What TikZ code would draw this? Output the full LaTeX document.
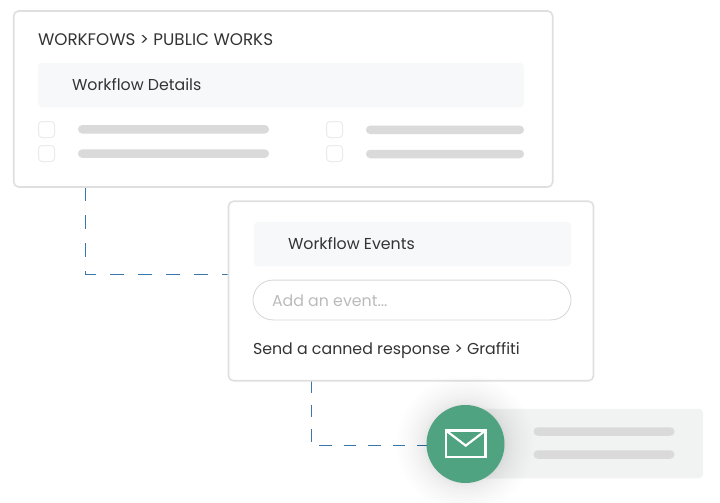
\documentclass[tikz,border=0pt]{standalone}
\usepackage{fontspec}
\setmainfont{Poppins}
\usetikzlibrary{backgrounds}
\definecolor{cardline}{HTML}{DFDFDF}
\definecolor{band}{HTML}{F7F8FA}
\definecolor{barc}{HTML}{DADADA}
\definecolor{ink}{HTML}{343434}
\definecolor{hint}{HTML}{BBBBBB}
\definecolor{link}{HTML}{3A78AB}
\definecolor{mail}{HTML}{4FA381}
\definecolor{panelc}{HTML}{F1F3F2}
\tikzset{
  box/.style={rectangle,inner sep=0pt,outer sep=0pt},
  card/.style={box,draw=cardline,line width=1.6pt,fill=white,rounded corners=5pt},
  bandbox/.style={box,fill=band,rounded corners=4pt},
  checkbox/.style={box,draw=black!8,line width=1pt,fill=white,rounded corners=3.5pt,minimum width=16pt,minimum height=16pt},
  barbox/.style={box,fill=barc,rounded corners=4.2pt,minimum height=8.5pt},
  label/.style={inner sep=0pt,outer sep=0pt,anchor=base west,text=ink,font=\fontsize{15.8}{18}\selectfont},
  linkline/.style={draw=link,line width=1pt,dash pattern=on 14pt off 14pt},
  linklineb/.style={draw=link,line width=1pt,dash pattern=on 12.5pt off 12pt,dash phase=0.5pt},
}
\begin{document}
\begin{tikzpicture}[x=1pt,y=-1pt]
\useasboundingbox (0,0) rectangle (720,503);
% first card
\node[card,minimum width=539pt,minimum height=176pt] (cardA) at (283.2,99) {};
\node[bandbox,minimum width=486pt,minimum height=44.5pt] (bandA) at (281,85.2) {};
\node[label,font=\fontsize{16.75}{18}\selectfont] (titleA) at (38,45.6) {WORKFOWS > PUBLIC WORKS};
\node[label] (textA) at (72,90) {Workflow Details};
\node[checkbox] (chkA) at (46.5,129.5) {};
\node[checkbox] (chkB) at (46.5,153.5) {};
\node[checkbox] (chkC) at (334.5,129.5) {};
\node[checkbox] (chkD) at (334.5,153.5) {};
\node[barbox,minimum width=191pt] (barA) at (173.5,129.3) {};
\node[barbox,minimum width=191pt] (barB) at (173.5,153.6) {};
\node[barbox,minimum width=158pt] (barC) at (445,129.8) {};
\node[barbox,minimum width=158pt] (barD) at (445,154) {};
% second card
\node[card,minimum width=365pt,minimum height=179.5pt] (cardB) at (411,291) {};
\node[bandbox,minimum width=317pt,minimum height=44.5pt] (bandB) at (412.5,244.2) {};
\node[label] (textB) at (288,249) {Workflow Events};
\node[box,draw=black!16,line width=.8pt,fill=white,rounded corners=19.9pt,minimum width=318pt,minimum height=39.8pt] (pill) at (412,300) {};
\node[label,text=hint] (hintT) at (272,306) {Add an event...};
\node[label] (textC) at (253,354) {Send a canned response > Graffiti};
% panel and mail circle
\node[box,fill=panelc,rounded corners=4pt,minimum width=233pt,minimum height=69.5pt] (panel) at (586.5,443.5) {};
\node[barbox,fill=barc,minimum width=141pt] (barE) at (604,431.5) {};
\node[barbox,fill=barc,minimum width=141pt] (barF) at (604,454.5) {};
\foreach \t in {1,...,28} {
  \pgfmathsetmacro{\r}{39+30*(\t/28)*(\t/28)}
  \fill[black,opacity=0.0048] (465.5,444) circle[radius=\r pt];
}
\node[circle,fill=mail,inner sep=0pt,outer sep=0pt,minimum size=78pt] (mailc) at (465.5,444) {};
\draw[white,line width=2.2pt,line join=miter] (446,430.5) rectangle (485.5,457);
\draw[white,line width=2.2pt,line join=miter] (446,430.5) -- (465.7,445.6) -- (485.5,430.5);
% connectors
\coordinate (bendA) at (85,274);
\coordinate (bendB) at (311,445.5);
\begin{scope}[on background layer]
\draw[linkline] (cardA.south -| bendA) -- (bendA) -- (cardB.west |- bendA);
\draw[linklineb] (cardB.south -| bendB) -- (bendB) -- (mailc.west |- bendB);
\end{scope}
\end{tikzpicture}
\end{document}
